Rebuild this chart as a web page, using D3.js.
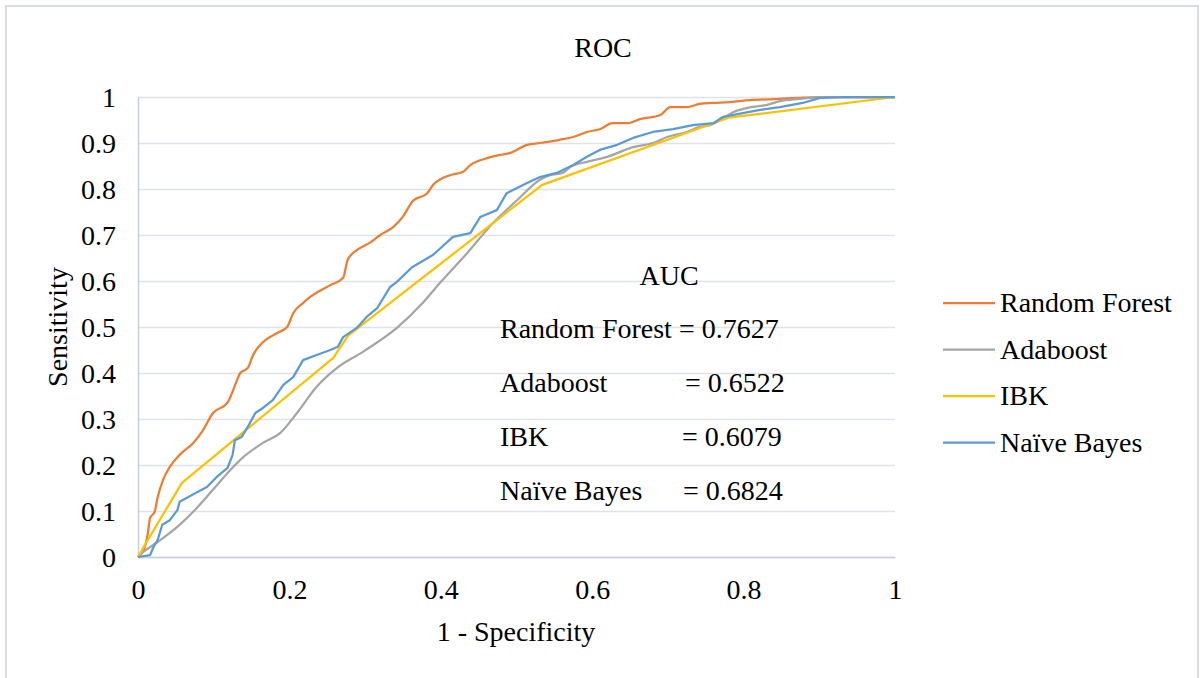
<!DOCTYPE html>
<html>
<head>
<meta charset="utf-8">
<script src="https://cdn.jsdelivr.net/npm/d3@7"></script>
<style>
  body { margin: 0; background: #fff; }
  svg text { font-family: "Liberation Serif", "Times New Roman", serif; fill: #000; }
</style>
</head>
<body>
<svg id="chart" width="1203" height="678"></svg>
<script>
// ROC curves: [1 - specificity, sensitivity]
const randomForest = [
  [0, 0], [0.009, 0.022], [0.013, 0.052], [0.016, 0.085], [0.022, 0.098], [0.026, 0.13],
  [0.033, 0.167], [0.042, 0.196], [0.055, 0.222], [0.073, 0.248], [0.086, 0.276],
  [0.099, 0.313], [0.118, 0.335], [0.131, 0.385], [0.135, 0.4], [0.145, 0.411],
  [0.152, 0.439], [0.165, 0.467], [0.184, 0.487], [0.197, 0.5], [0.205, 0.53],
  [0.218, 0.552], [0.227, 0.565], [0.254, 0.591], [0.271, 0.607], [0.277, 0.646],
  [0.289, 0.667], [0.306, 0.683], [0.32, 0.7], [0.337, 0.717], [0.35, 0.74],
  [0.363, 0.774], [0.382, 0.791], [0.39, 0.809], [0.412, 0.83], [0.429, 0.837],
  [0.439, 0.852], [0.461, 0.867], [0.478, 0.874], [0.491, 0.878], [0.514, 0.896],
  [0.531, 0.9], [0.557, 0.907], [0.575, 0.913], [0.593, 0.924], [0.61, 0.93],
  [0.627, 0.943], [0.646, 0.943], [0.663, 0.952], [0.69, 0.961], [0.703, 0.978],
  [0.725, 0.978], [0.742, 0.985], [0.76, 0.987], [0.782, 0.989], [0.808, 0.993],
  [0.848, 0.996], [0.871, 0.998], [0.901, 1], [1, 1]
];
const adaboost = [
  [0, 0], [0.007, 0.011], [0.02, 0.026], [0.033, 0.041], [0.055, 0.07], [0.078, 0.107],
  [0.099, 0.146], [0.122, 0.189], [0.139, 0.217], [0.165, 0.248], [0.188, 0.27],
  [0.21, 0.313], [0.236, 0.37], [0.263, 0.411], [0.297, 0.446], [0.342, 0.498],
  [0.376, 0.552], [0.399, 0.596], [0.435, 0.661], [0.469, 0.726], [0.501, 0.776],
  [0.531, 0.82], [0.544, 0.83], [0.561, 0.835], [0.571, 0.848], [0.593, 0.859],
  [0.62, 0.87], [0.654, 0.891], [0.68, 0.9], [0.699, 0.913], [0.725, 0.924],
  [0.742, 0.935], [0.756, 0.939], [0.773, 0.954], [0.786, 0.967], [0.804, 0.976],
  [0.831, 0.983], [0.848, 0.991], [0.875, 0.996], [0.901, 1], [1, 1]
];
const ibk = [
  [0, 0], [0.009, 0.026], [0.058, 0.161], [0.258, 0.433], [0.268, 0.458],
  [0.278, 0.482], [0.534, 0.809], [0.78, 0.955], [1, 1]
];
const naiveBayes = [
  [0, 0], [0.016, 0.004], [0.02, 0.02], [0.026, 0.037], [0.032, 0.07], [0.042, 0.08],
  [0.052, 0.102], [0.055, 0.12], [0.066, 0.13], [0.078, 0.141], [0.091, 0.152],
  [0.104, 0.174], [0.118, 0.193], [0.125, 0.222], [0.128, 0.254], [0.137, 0.261],
  [0.144, 0.28], [0.155, 0.313], [0.165, 0.324], [0.178, 0.341], [0.192, 0.374],
  [0.205, 0.391], [0.218, 0.428], [0.236, 0.439], [0.254, 0.45], [0.264, 0.457],
  [0.271, 0.478], [0.289, 0.498], [0.302, 0.522], [0.316, 0.541], [0.333, 0.587],
  [0.342, 0.598], [0.362, 0.63], [0.39, 0.657], [0.416, 0.696], [0.439, 0.704],
  [0.452, 0.739], [0.474, 0.754], [0.487, 0.791], [0.514, 0.813], [0.531, 0.826],
  [0.553, 0.835], [0.575, 0.852], [0.593, 0.87], [0.61, 0.885], [0.633, 0.896],
  [0.654, 0.911], [0.68, 0.924], [0.707, 0.93], [0.733, 0.939], [0.76, 0.943],
  [0.773, 0.957], [0.799, 0.965], [0.822, 0.972], [0.848, 0.978], [0.878, 0.987],
  [0.901, 0.998], [0.937, 1], [1, 1]
];

const seriesNames = ["Random Forest", "Adaboost", "IBK", "Naïve Bayes"];
const seriesData = [randomForest, adaboost, ibk, naiveBayes];
const seriesColors = ["#ED7D31", "#A5A5A5", "#FFC000", "#5B9BD5"];
const xTicks = [0, 0.2, 0.4, 0.6, 0.8, 1];
const yTicks = [0, 0.1, 0.2, 0.3, 0.4, 0.5, 0.6, 0.7, 0.8, 0.9, 1];
const aucNames = ["Random Forest", "Adaboost", "IBK", "Naïve Bayes"];
const aucValues = ["0.7627", "0.6522", "0.6079", "0.6824"];

const svg = d3.select("#chart");

// outer frame of the chart area
svg.append("rect")
  .attr("x", 6).attr("y", 6)
  .attr("width", 1192).attr("height", 700)
  .attr("fill", "none")
  .attr("stroke", "#d9dde3")
  .attr("stroke-width", 2);

const plotLeft = 138, plotRight = 895, plotTop = 97, plotBottom = 557;

const xScale = d3.scaleLinear().domain([0, 1]).range([plotLeft, plotRight]);
const yScale = d3.scaleLinear().domain([0, 1]).range([plotBottom, plotTop]);

// horizontal grid
svg.append("g")
  .attr("transform", "translate(" + plotLeft + ",0)")
  .call(d3.axisLeft(yScale).tickValues(yTicks).tickSize(-(plotRight - plotLeft)).tickFormat(""))
  .call(g => g.select(".domain").remove())
  .selectAll("line")
  .attr("stroke", "#dfe3e8")
  .attr("stroke-width", 1.5);

// y axis
const yAxis = svg.append("g")
  .attr("transform", "translate(" + plotLeft + ",0)")
  .call(d3.axisLeft(yScale).tickValues(yTicks).tickSize(0).tickPadding(22).tickFormat(d3.format("")));
yAxis.select(".domain").attr("stroke", "#c5cedb").attr("stroke-width", 1.5);
yAxis.selectAll("text").attr("font-size", 28).attr("dy", "0.35em");

// x axis
const xAxis = svg.append("g")
  .attr("transform", "translate(0," + plotBottom + ")")
  .call(d3.axisBottom(xScale).tickValues(xTicks).tickSize(0).tickPadding(22).tickFormat(d3.format("")));
xAxis.select(".domain").attr("stroke", "#c5cedb").attr("stroke-width", 1.5);
xAxis.selectAll("text").attr("font-size", 28).attr("dy", "0.71em");

svg.selectAll(".tick text").attr("fill", "#000").style("font-family", "'Liberation Serif', serif");

// curves
const smooth = d3.line().x(d => xScale(d[0])).y(d => yScale(d[1])).curve(d3.curveMonotoneX);
const straight = d3.line().x(d => xScale(d[0])).y(d => yScale(d[1]));

seriesData.forEach(function (data, i) {
  svg.append("path")
    .datum(data)
    .attr("fill", "none")
    .attr("stroke", seriesColors[i])
    .attr("stroke-width", 2.25)
    .attr("stroke-linejoin", "round")
    .attr("d", i < 2 ? smooth : straight);
});

// title and axis titles
svg.append("text").attr("x", 603).attr("y", 57)
  .attr("text-anchor", "middle").attr("font-size", 28).text("ROC");
svg.append("text").attr("x", 516).attr("y", 641)
  .attr("text-anchor", "middle").attr("font-size", 28).text("1 - Specificity");
svg.append("text")
  .attr("transform", "translate(67,327) rotate(-90)")
  .attr("text-anchor", "middle").attr("font-size", 28).text("Sensitivity");

// AUC box text
svg.append("text").attr("x", 669).attr("y", 285)
  .attr("text-anchor", "middle").attr("font-size", 28).text("AUC");
const aucY = [338, 392, 446, 500];
const eqX = [null, 685, 682, 683];
aucNames.forEach(function (name, i) {
  if (i == 0) {
    svg.append("text").attr("x", 500).attr("y", aucY[i]).attr("font-size", 28)
      .text(name + " = " + aucValues[i]);
  } else {
    svg.append("text").attr("x", 500).attr("y", aucY[i]).attr("font-size", 28).text(name);
    svg.append("text").attr("x", eqX[i]).attr("y", aucY[i]).attr("font-size", 28)
      .text("= " + aucValues[i]);
  }
});

// legend
const legend = svg.append("g");
seriesNames.forEach(function (name, i) {
  const y = 303 + i * 46.5;
  legend.append("line")
    .attr("x1", 943).attr("x2", 995).attr("y1", y).attr("y2", y)
    .attr("stroke", seriesColors[i]).attr("stroke-width", 2.25);
  legend.append("text").attr("x", 1000).attr("y", y).attr("dy", "0.33em")
    .attr("font-size", 28).text(name);
});
</script>
</body>
</html>
